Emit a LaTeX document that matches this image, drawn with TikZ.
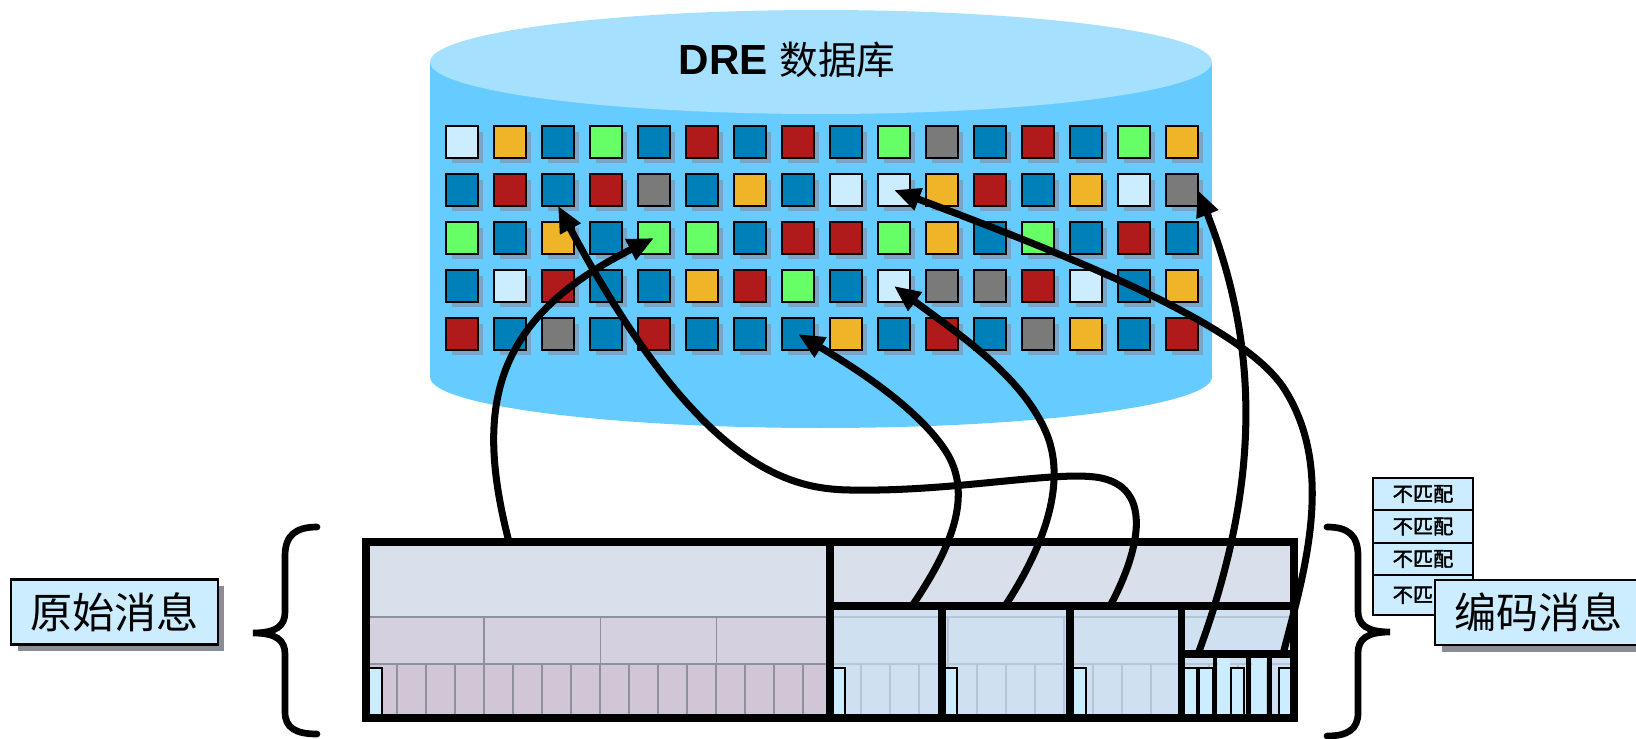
\documentclass[tikz,border=0pt]{standalone}
\usepackage{fontspec}
\setmainfont{Liberation Sans}
\newfontfamily\cjk[AutoFakeBold=2]{Noto Sans CJK SC}
\usetikzlibrary{arrows.meta,shadows}
\definecolor{dbbody}{RGB}{102,204,255}
\definecolor{dbtop}{RGB}{166,224,255}
\definecolor{sqshadow}{RGB}{120,166,196}
\definecolor{cL}{RGB}{204,236,255}
\definecolor{cY}{RGB}{240,180,40}
\definecolor{cB}{RGB}{0,128,184}
\definecolor{cG}{RGB}{102,255,102}
\definecolor{cR}{RGB}{176,26,26}
\definecolor{cK}{RGB}{122,122,122}
\definecolor{tagfill}{RGB}{204,236,255}
\definecolor{tagshadow}{RGB}{140,140,150}
\definecolor{msgtop}{RGB}{217,223,235}
\definecolor{msgmid}{RGB}{212,208,223}
\definecolor{msglow}{RGB}{209,198,214}
\definecolor{msgline}{RGB}{140,145,155}
\definecolor{encfill}{RGB}{207,224,240}
\definecolor{encline}{RGB}{180,198,216}

\begin{document}
\begin{tikzpicture} [x=0.02cm, y=-0.02cm, %
  sq/.style={draw, line width=1.4pt, minimum size=0.63cm, inner sep=0pt, outer sep=0pt, %
    drop shadow={shadow xshift=0.11cm, shadow yshift=-0.11cm, fill=sqshadow, opacity=1}}, %
  link/.style={line width=4pt, -{Triangle[length=15pt, width=12.5pt]}}, %
  tag/.style={draw, line width=1.5pt, fill=tagfill, minimum width=4.14cm, minimum height=1.3cm, %
    inner sep=0pt, font=\cjk\fontsize{24}{28}\selectfont, %
    drop shadow={shadow xshift=0.13cm, shadow yshift=-0.13cm, fill=tagshadow, opacity=1}}, %
  nomatch/.style={draw, line width=1pt, fill=tagfill, minimum width=2cm, inner sep=0pt, %
    font=\cjk\bfseries\fontsize{11.5}{12}\selectfont}, %
  wall/.style={line width=4.4pt}, thinwall/.style={line width=2.6pt}, %
  cell/.style={draw, line width=0.6pt, fill=tagfill}, %
  brace/.style={line width=3.8pt, line cap=round}] %
\useasboundingbox (0,0) rectangle (1636,738); %
 %
% database cylinder
\fill [dbbody] (430,62) rectangle (1212,377); %
\fill [dbbody] (821,377) ellipse [x radius=7.82cm, y radius=1.02cm]; %
\fill [dbtop] (821,62) ellipse [x radius=7.82cm, y radius=1.04cm]; %
\node (dbtitle) at (787,60) {\fontsize{24}{28}\selectfont\bfseries DRE {\cjk\mdseries\fontsize{22}{26}\selectfont 数据库}}; %
\foreach \cols [count=\r] in {{L,Y,B,G,B,R,B,R,B,G,K,B,R,B,G,Y}, %
  {B,R,B,R,K,B,Y,B,L,L,Y,R,B,Y,L,K}, {G,B,Y,B,G,G,B,R,R,G,Y,B,G,B,R,B}, %
  {B,L,R,B,B,Y,R,G,B,L,K,K,R,L,B,Y}, {R,B,K,B,R,B,B,B,Y,B,R,B,K,Y,B,R}} %
  \foreach \cl [count=\c] in \cols %
    \node [sq, fill=c\cl] (s-\r-\c) at ({462+48*(\c-1)}, {142+48*(\r-1)}) {}; %
 %
% original message
\fill [msgtop] (366,542) rectangle (830,617); %
\fill [msgmid] (366,617) rectangle (830,664); %
\fill [msglow] (366,664) rectangle (830,718); %
\draw [msgline, line width=1.1pt] (366,617) -- (830,617) (366,664) -- (830,664); %
\foreach \x in {484,600.5,716.5} \draw [msgline, line width=1.1pt] (\x,617) -- (\x,664); %
\foreach \k in {1,...,15} \draw [msgline, line width=1.1pt] ({368.3+29*\k},664) -- ({368.3+29*\k},718); %
 %
% encoded message
\fill [msgtop] (830,542) rectangle (1294,606); %
\fill [encfill] (830,606) rectangle (1294,718); %
\draw [encline, line width=1.1pt] (830,617) -- (1294,617) (830,664) -- (1294,664); %
\foreach \x in {948.3,1064.3} \draw [encline, line width=1.1pt] (\x,617) -- (\x,664); %
\foreach \k in {16,...,31} \draw [encline, line width=1.1pt] ({368.3+29*\k},664) -- ({368.3+29*\k},718); %
\fill [tagfill] (1218,658) rectangle (1230,716) (1252,658) rectangle (1266,716); %
\foreach \a/\b in {367/382, 832/845, 943/957, 1071/1086, 1183/1197, 1199/1213, 1231/1244, 1279/1293} %
  \draw [cell] (\a,668) rectangle (\b,715); %
\draw [wall] (830,542) -- (830,718); %
\draw [wall] (830,606) -- (1294,606); %
\foreach \x in {942,1070,1181.5} \draw [wall] (\x,606) -- (\x,718); %
\draw [wall] (1181.5,654) -- (1294,654); %
\foreach \x in {1215,1248.5,1269.5} \draw [thinwall] (\x,654) -- (\x,718); %
\draw [wall] (366,542) rectangle (1294,718); %
 %
% references into the database
\coordinate (o1) at (509,542); %
\coordinate (e1) at (912,606); %
\coordinate (e2) at (1005,606); %
\coordinate (e3) at (1110,606); %
\coordinate (m1) at (1198,654); %
\coordinate (m2) at (1283,654); %
\draw [link] (o1) .. controls (475,410) and (490,320) .. (s-3-5.center); %
\draw [link] (e1) .. controls (950,550) and (975,495) .. (945,450) %
  .. controls (915,405) and (850,365) .. (s-5-8.center); %
\draw [link] (e2) .. controls (1045,545) and (1068,480) .. (1045,430) %
  .. controls (1020,375) and (960,335) .. (s-4-10.center); %
\draw [link] (e3) .. controls (1135,560) and (1160,485) .. (1095,477) %
  .. controls (1050,471.5) and (950,492) .. (850,490) %
  .. controls (790,489) and (700,470) .. (s-2-3.south); %
\draw [link] (m1) .. controls (1255,500) and (1265,360) .. (s-2-16.east); %
\draw [link] (m2) .. controls (1305,570) and (1335,470) .. (1285,390) %
  .. controls (1245,326) and (1080,260) .. (s-2-10.center); %
 %
% braces
\draw [brace] (317,527) .. controls (296,527) and (285,535) .. (285,556) -- (285,612) %
  .. controls (285,626) and (276,633) .. (253,633) .. controls (276,633) and (285,640) .. (285,654) %
  -- (285,712) .. controls (285,728) and (296,734) .. (317,734); %
\draw [brace] (1327,527) .. controls (1348,527) and (1358,535) .. (1358,556) -- (1358,611) %
  .. controls (1358,625) and (1367,632) .. (1390,632) .. controls (1367,632) and (1358,639) .. (1358,653) %
  -- (1358,713) .. controls (1358,729) and (1348,736) .. (1327,736); %
 %
% labels
\node [nomatch, minimum height=0.64cm] (nm1) at (1423,494) {不匹配}; %
\node [nomatch, minimum height=0.66cm] (nm2) at (1423,526.5) {不匹配}; %
\node [nomatch, minimum height=0.64cm] (nm3) at (1423,559) {不匹配}; %
\node [nomatch, minimum height=0.8cm] (nm4) at (1423,595) {不匹配}; %
\node [tag] (orig) at (114.5,612) {原始消息}; %
\node [tag] (enc) at (1538.5,612.5) {编码消息}; %
\end{tikzpicture}
\end{document}
